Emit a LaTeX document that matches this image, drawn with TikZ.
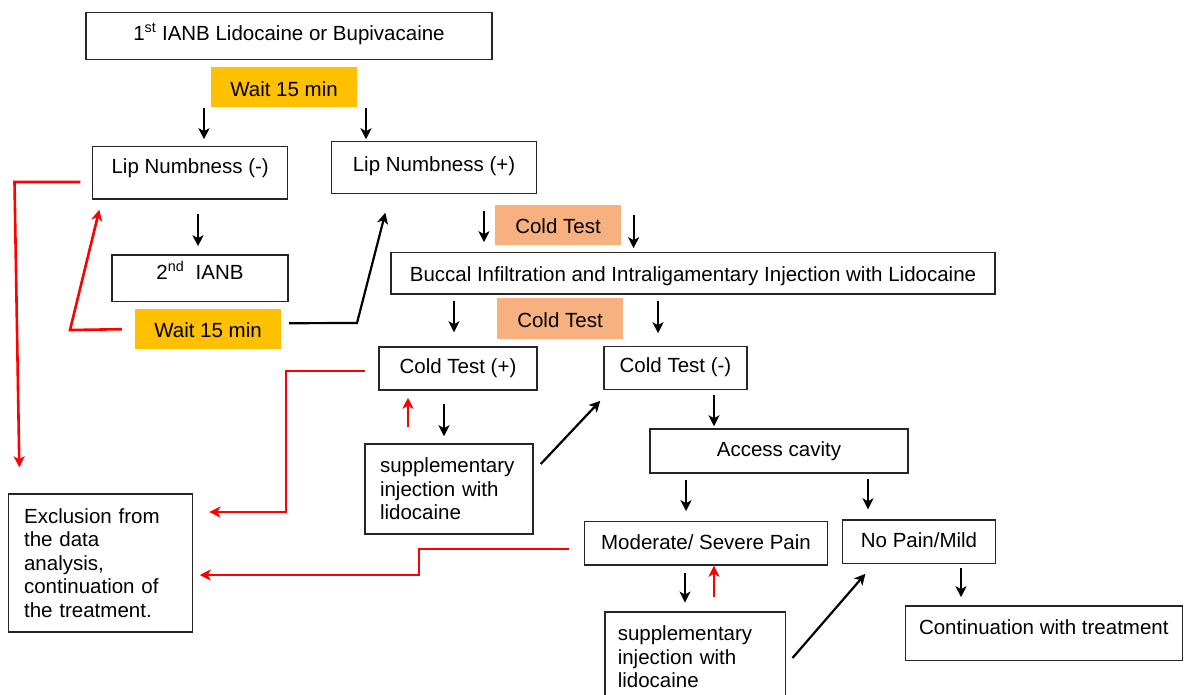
\documentclass[tikz,border=0pt]{standalone}
\usepackage{fontspec}
\setmainfont{Liberation Sans}
\usetikzlibrary{arrows.meta}
\definecolor{waitc}{RGB}{255,192,0}
\definecolor{coldc}{RGB}{247,176,128}
\begin{document}
\begin{tikzpicture}[x=1pt,y=-1pt,
  font=\fontsize{20.5}{23.5}\selectfont,
  box/.style={draw=black!85, line width=1.5pt, inner sep=0pt, fill=white},
  tv/.style 2 args={text height=#1pt, text depth=#2pt},
  waitbox/.style={fill=waitc, inner sep=0pt},
  coldbox/.style={fill=coldc, inner sep=0pt},
  arr/.style={line width=2.2pt, -{Stealth[length=11pt,width=11pt,inset=3pt]}},
  rarr/.style={draw=red, line width=2.6pt, -{Stealth[length=11pt,width=11pt,inset=3pt]}},
]
\useasboundingbox (0,0) rectangle (1185,694);
\clip (0,0) rectangle (1185,694);
\fill[white] (0,0) rectangle (1185,694);

% nodes
\node[box, minimum width=406pt, minimum height=46.6pt, tv={15}{6.7}] (top) at (289,36) {1\textsuperscript{st} IANB Lidocaine or Bupivacaine};
\node[waitbox, minimum width=146.5pt, minimum height=40.6pt, tv={18.3}{0}] (w1) at (284,87) {Wait 15 min};
\node[box, minimum width=195pt, minimum height=52.3pt, tv={15}{12.7}] (lipneg) at (190.2,172.8) {Lip Numbness (-)};
\node[box, minimum width=205pt, minimum height=51.6pt, tv={15}{6.7}] (lippos) at (434,167.5) {Lip Numbness (+)};
\node[box, minimum width=176pt, minimum height=46.7pt, tv={15}{12.7}] (ianb2) at (200,278.3) {2\textsuperscript{nd}\ \ IANB};
\node[waitbox, minimum width=146pt, minimum height=40.3pt, tv={17.1}{0}] (w2) at (208,329.2) {Wait 15 min};
\node[coldbox, minimum width=126pt, minimum height=40pt, tv={16.3}{0}] (c1) at (558,225) {Cold Test};
\node[box, minimum width=604pt, minimum height=41.3pt, tv={16.3}{0}] (buccal) at (693,273.3) {Buccal Infiltration and Intraligamentary Injection with Lidocaine};
\node[coldbox, minimum width=126pt, minimum height=41pt, tv={18.3}{0}] (c2) at (560,318.8) {Cold Test};
\node[box, minimum width=158pt, minimum height=43pt, tv={15}{5.7}] (ctpos) at (458,368.5) {Cold Test (+)};
\node[box, minimum width=143pt, minimum height=42.7pt, tv={15}{5.7}] (ctneg) at (675.5,368) {Cold Test (-)};
\node[box, text width=138pt, inner xsep=15pt, minimum height=90pt, align=left] (supp1) at (449,489) {supplementary\\injection with\\lidocaine};
\node[box, minimum width=258pt, minimum height=44pt, tv={15}{4.7}] (access) at (779,451) {Access cavity};
\node[box, text width=152.8pt, inner xsep=15.6pt, minimum height=138pt, align=left] (excl) at (100.5,563) {Exclusion from\\the data\\analysis,\\continuation of\\the treatment.};
\node[box, minimum width=243pt, minimum height=43.3pt, tv={15}{2.7}] (moder) at (706,543.3) {Moderate/ Severe Pain};
\node[box, minimum width=152.7pt, minimum height=43.3pt, tv={15}{2.7}] (nopain) at (919,541.7) {No Pain/Mild};
\node[box, text width=154.5pt, inner xsep=13pt, minimum height=90pt, align=left] (supp2) at (695,657) {supplementary\\injection with\\lidocaine};
\node[box, minimum width=277pt, minimum height=54.7pt, tv={15}{12.7}] (contin) at (1043.8,633.3) {Continuation with treatment};

% black short arrows
\draw[arr, shorten >=6.7pt] (204,0 |- w1.south) -- (204,0 |- lipneg.north);
\draw[arr, shorten >=1.7pt] (366,0 |- w1.south) -- (366,0 |- lippos.north);
\draw[arr, shorten <=14pt, shorten >=8pt] (198,0 |- lipneg.south) -- (198,0 |- ianb2.north);
\draw[arr, shorten <=16.7pt, shorten >=9.7pt] (484,0 |- lippos.south) -- (484,0 |- buccal.north);
\draw[arr, shorten <=10pt, shorten >=3.7pt] (633.6,0 |- c1.north) -- (633.6,0 |- buccal.north);
\draw[arr, shorten <=6pt, shorten >=14pt] (454,0 |- buccal.south) -- (454,0 |- ctpos.north);
\draw[arr, shorten <=6pt, shorten >=12.7pt] (658,0 |- buccal.south) -- (658,0 |- ctneg.north);
\draw[arr, shorten <=13pt, shorten >=7pt] (444,0 |- ctpos.south) -- (444,0 |- supp1.north);
\draw[arr, shorten <=4.7pt, shorten >=2pt] (714,0 |- ctneg.south) -- (714,0 |- access.north);
\draw[arr, shorten <=6pt, shorten >=9.7pt] (686,0 |- access.south) -- (686,0 |- moder.north);
\draw[arr, shorten <=5pt, shorten >=10pt] (868,0 |- access.south) -- (868,0 |- nopain.north);
\draw[arr, shorten <=7pt, shorten >=8.7pt] (685,0 |- moder.south) -- (685,0 |- supp2.north);
\draw[arr, shorten <=3.7pt, shorten >=8pt] (961,0 |- nopain.south) -- (961,0 |- contin.north);

% black bent / diagonal arrows
\draw[arr] ([shift={(8,-6)}]w2.east) -- (357,323) -- ([shift={(54.6,18.7)}]lippos.south west);
\draw[arr] ([shift={(7,-25)}]supp1.east) -- ([shift={(-3,10.7)}]ctneg.south west);
\draw[arr] ([shift={(6.5,1)}]supp2.east) -- ([shift={(23.5,9.7)}]nopain.south west);

% red arrows
\draw[rarr] ([xshift=-13pt]w2.west) -- (70,330) -- ([shift={(7.4,10)}]lipneg.south west);
\draw[rarr] ([shift={(-11.6,9.2)}]lipneg.west) -- (14.5,182) -- ([shift={(11.6,-26)}]excl.north west);
\draw[rarr] ([shift={(-13.5,2.5)}]ctpos.west) -- (286,371) -- (286,512) -- ([shift={(16.1,-51)}]excl.east);
\draw[rarr, shorten <=16pt, shorten >=7pt] (408,0 |- supp1.north) -- (408,0 |- ctpos.south);
\draw[rarr] ([shift={(-14.6,5.7)}]moder.west) -- (419,549) -- (419,575) -- ([shift={(6.5,12)}]excl.east);
\draw[rarr, shorten <=14.7pt] (714,0 |- supp2.north) -- (714,0 |- moder.south);
\end{tikzpicture}
\end{document}
